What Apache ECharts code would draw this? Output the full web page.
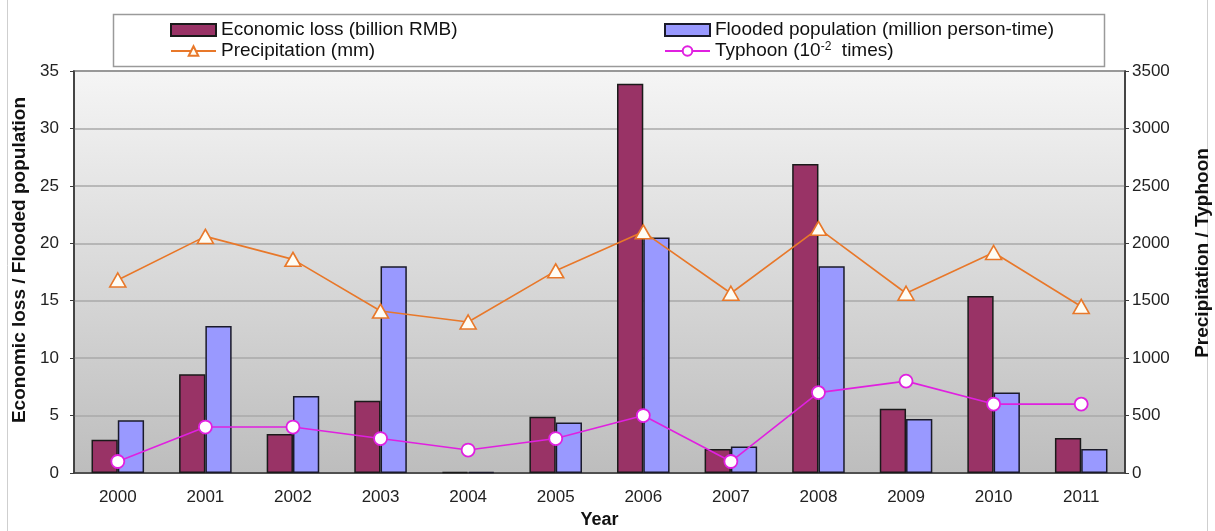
<!DOCTYPE html>
<html>
<head>
<meta charset="utf-8">
<script src="https://cdn.jsdelivr.net/npm/echarts@6/dist/echarts.min.js"></script>
<style>html,body{margin:0;padding:0;background:#fff;overflow:hidden}#c{width:1215px;height:531px}</style>
</head>
<body>
<div id="c"></div>
<script>
const years = ['2000','2001','2002','2003','2004','2005','2006','2007','2008','2009','2010','2011'];
const economicLoss = [2.9, 8.6, 3.4, 6.3, 0.1, 4.9, 33.9, 2.1, 26.9, 5.6, 15.4, 3.05];
const floodedPopulation = [4.6, 12.8, 6.7, 18.0, 0.1, 4.4, 20.5, 2.3, 18.0, 4.7, 7.0, 2.1];
const precipitation = [1680, 2060, 1860, 1410, 1315, 1760, 2100, 1565, 2130, 1565, 1920, 1450];
const typhoon = [100, 400, 400, 300, 200, 300, 500, 100, 700, 800, 600, 600];

const nEcon = 'Economic loss (billion RMB)';
const nFlood = 'Flooded population (million person-time)';
const nPrec = 'Precipitation (mm)';
const nTyph = 'Typhoon (10-2 times)';

const chart = echarts.init(document.getElementById('c'));
const font = 'Liberation Sans, Arial, sans-serif';
const legendText = {
  fontFamily: font, fontSize: 19, color: '#111', lineHeight: 20,
  rich: {
    sup: { fontFamily: font, fontSize: 12, color: '#111', verticalAlign: 'top', padding: [0,0,8,0] },
    n: { fontFamily: font, fontSize: 19, color: '#111' }
  }
};
const legendFmt = function (name) {
  if (name === nTyph) return '{n|Typhoon (10}{sup|-2}{n|  times)}';
  return name;
};
chart.setOption({
  animation: false,
  backgroundColor: '#fff',
  graphic: [
    { type: 'rect', shape: { x: 7.5, y: -5, width: 1200, height: 550 }, style: { fill: 'none', stroke: '#cfcfcf', lineWidth: 1 }, silent: true, z: -10 },
    { type: 'rect', shape: { x: 113.5, y: 14.5, width: 991, height: 52 }, style: { fill: '#fff', stroke: '#9a9a9a', lineWidth: 1.5 }, silent: true, z: -5 }
  ],
  legend: [
    { left: 170, top: 20, padding: 0, orient: 'vertical', itemWidth: 45, itemHeight: 12, itemGap: 1, itemTextGap: 3,
      data: [{ name: nEcon, icon: 'rect' }, { name: nPrec }], textStyle: legendText, formatter: legendFmt },
    { left: 664, top: 20, padding: 0, orient: 'vertical', itemWidth: 45, itemHeight: 12, itemGap: 1, itemTextGap: 3,
      data: [{ name: nFlood, icon: 'rect' }, { name: nTyph }], textStyle: legendText, formatter: legendFmt }
  ],
  grid: {
    left: 74, right: 90, top: 71, bottom: 58, show: true,
    outerBoundsMode: 'none', containLabel: false,
    borderColor: '#3a3a3a', borderWidth: 1.5,
    backgroundColor: new echarts.graphic.LinearGradient(0, 0, 0, 1, [
      { offset: 0, color: '#f5f5f5' }, { offset: 1, color: '#bdbdbd' }
    ])
  },
  xAxis: {
    type: 'category', data: years,
    name: 'Year', nameLocation: 'middle', nameGap: 35,
    nameTextStyle: { fontFamily: font, fontSize: 18, fontWeight: 'bold', color: '#111' },
    axisLine: { lineStyle: { color: '#3a3a3a', width: 1.5 } },
    axisTick: { inside: true, length: 5, lineStyle: { color: '#222', width: 1.5 } },
    axisLabel: { fontFamily: font, fontSize: 17, color: '#222', margin: 16 }
  },
  yAxis: [
    {
      type: 'value', min: 0, max: 35, interval: 5,
      name: 'Economic loss / Flooded population', nameLocation: 'middle', nameGap: 41, nameRotate: 90,
      nameTextStyle: { fontFamily: font, fontSize: 19, fontWeight: 'bold', color: '#111', padding: [0, 0, 0, 24] },
      axisLine: { show: true, lineStyle: { color: '#3a3a3a', width: 1.5 } },
      axisTick: { show: true, length: 4, lineStyle: { color: '#3a3a3a' } },
      axisLabel: { fontFamily: font, fontSize: 17, color: '#222', margin: 15 },
      splitLine: { show: true, lineStyle: { color: '#a8a8a8', width: 1.5 } }
    },
    {
      type: 'value', min: 0, max: 3500, interval: 500,
      name: 'Precipitation / Typhoon', nameLocation: 'middle', nameGap: 68, nameRotate: 90,
      nameTextStyle: { fontFamily: font, fontSize: 19, fontWeight: 'bold', color: '#111', padding: [0, 0, 0, 38] },
      axisLine: { show: true, lineStyle: { color: '#3a3a3a', width: 1.5 } },
      axisTick: { show: true, length: 4, lineStyle: { color: '#3a3a3a' } },
      axisLabel: { fontFamily: font, fontSize: 17, color: '#222', margin: 7, formatter: function (v) { return String(v); } },
      splitLine: { show: false }
    }
  ],
  series: [
    { name: nEcon, type: 'bar', data: economicLoss, barWidth: '30%', barGap: '0%',
      itemStyle: { color: '#993366', borderColor: '#1a1a1a', borderWidth: 1.5 } },
    { name: nFlood, type: 'bar', data: floodedPopulation, barWidth: '30%', barGap: '0%',
      itemStyle: { color: '#9999ff', borderColor: '#1a1a2a', borderWidth: 1.5 } },
    { name: nPrec, type: 'line', yAxisIndex: 1, data: precipitation, z: 5,
      symbol: 'triangle', symbolSize: [16, 14],
      lineStyle: { color: '#e8782a', width: 1.6 },
      itemStyle: { color: '#fffdf4', borderColor: '#e8782a', borderWidth: 1.6 } },
    { name: nTyph, type: 'line', yAxisIndex: 1, data: typhoon, z: 5,
      symbol: 'circle', symbolSize: 13,
      lineStyle: { color: '#e020e0', width: 1.6 },
      itemStyle: { color: '#ffffff', borderColor: '#e020e0', borderWidth: 1.8 } }
  ]
});
</script>
</body>
</html>
